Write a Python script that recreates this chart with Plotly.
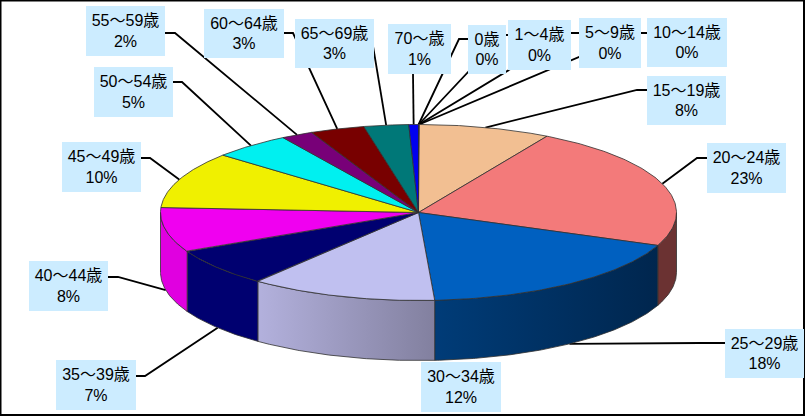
import numpy as np
import plotly.graph_objects as go

ages = ["0歳", "1～4歳", "5～9歳", "10～14歳", "15～19歳", "20～24歳", "25～29歳",
        "30～34歳", "35～39歳", "40～44歳", "45～49歳", "50～54歳", "55～59歳",
        "60～64歳", "65～69歳", "70～歳"]
shares = [0.01, 0.01, 0.01, 0.02, 8.25, 22.8, 17.9, 11.7, 7.0, 8.2, 10.4, 4.9, 2.0, 3.4, 2.8, 0.6]

top_colors = ["#0000F0", "#00F0F0", "#F000F0", "#F0F000", "#F2BF92", "#F37A7A", "#0060C0", "#C0C0F0",
              "#000070", "#F000F0", "#F0F000", "#00F0F0", "#780078", "#780000", "#007878", "#0000F0"]
wall_colors = {
    "20～24歳": ("#6B3232", "#6B3232"),
    "25～29歳": ("#003C78", "#00264E"),
    "30～34歳": ("#B3B1DD", "#82809F"),
    "35～39歳": ("#000070", "#000070"),
    "40～44歳": ("#E000E0", "#E000E0"),
}

# label box: left, top, width, height, then the elbow of its leader (None = no leader)
boxes = {
    "0歳": (468, 25, 38, 49, (468, 39), (459, 39)),
    "1～4歳": (508, 20, 63, 50, (508, 35), (503, 35)),
    "5～9歳": (579, 18, 62, 50, (579, 33), (570, 33)),
    "10～14歳": (647, 18, 80, 49, (647, 33), (636, 33)),
    "15～19歳": (647, 76, 79, 49, (647, 90), (637, 90)),
    "20～24歳": (707, 143, 79, 50, (707, 158), (697, 158)),
    "25～29歳": (725, 329, 79, 49, (725, 343), (700, 343)),
    "30～34歳": (421, 362, 80, 50, None, None),
    "35～39歳": (56, 360, 80, 50, (136, 376), (145, 376)),
    "40～44歳": (29, 261, 79, 50, (108, 277), (118, 277)),
    "45～49歳": (62, 142, 79, 50, (141, 158), (150, 158)),
    "50～54歳": (94, 67, 79, 50, (173, 82), (182, 82)),
    "55～59歳": (86, 6, 79, 50, (165, 33), (175, 33)),
    "60～64歳": (204, 9, 80, 49, (284, 33), (293, 33)),
    "65～69歳": (295, 19, 79, 49, (372, 40), (372, 40)),
    "70～歳": (388, 24, 63, 50, (413, 74), (413, 74)),
}

cx, cy = 418.5, 212.5
rx, ry = 258, 88
depth = 60
edge = "#303030"


def arc(a0, a1):
    t = np.radians(np.linspace(a0, a1, 120))
    return cx + rx * np.sin(t), cy - ry * np.cos(t)


total = sum(shares)
ends = np.cumsum(shares) / total * 360
starts = np.concatenate([[0], ends[:-1]])

fig = go.Figure()

# leaders go first so the pie and the boxes sit on top of them
for age, a0, a1 in zip(ages, starts, ends):
    box = boxes[age]
    if box[4] is None:
        continue
    mid = np.radians((a0 + a1) / 2)
    ax = cx + rx * np.sin(mid)
    ay = cy - ry * np.cos(mid)
    if np.cos(mid) < 0:
        ay += depth
    fig.add_trace(go.Scatter(
        x=[box[4][0], box[5][0], ax], y=[box[4][1], box[5][1], ay],
        mode="lines", line=dict(color="black", width=1.8),
        hoverinfo="skip", showlegend=False,
    ))

# side walls, only the front half of the rim shows
for age, a0, a1 in zip(ages, starts, ends):
    if age not in wall_colors:
        continue
    lo, hi = max(a0, 90), min(a1, 270)
    x, y = arc(lo, hi)
    left, right = wall_colors[age]
    if x[0] > x[-1]:
        x, y = x[::-1], y[::-1]
    fig.add_trace(go.Scatter(
        x=np.concatenate([x, x[::-1], x[:1]]),
        y=np.concatenate([y, y[::-1] + depth, y[:1]]),
        mode="lines", fill="toself",
        fillgradient=dict(type="horizontal", colorscale=[[0, left], [1, right]]),
        line=dict(color=edge, width=0.8),
        hoverinfo="skip", showlegend=False,
    ))

for a0, a1, color in zip(starts, ends, top_colors):
    x, y = arc(a0, a1)
    fig.add_trace(go.Scatter(
        x=np.concatenate([[cx], x, [cx]]),
        y=np.concatenate([[cy], y, [cy]]),
        mode="lines", fill="toself", fillcolor=color,
        line=dict(color=edge, width=0.8),
        hoverinfo="skip", showlegend=False,
    ))

for age, share in zip(ages, shares):
    left, top, w, h = boxes[age][:4]
    fig.add_annotation(
        x=left, y=top, xref="x", yref="y", xanchor="left", yanchor="top",
        text=f"{age}<br>{round(share / total * 100)}%",
        showarrow=False, width=w, height=h, align="center", valign="middle",
        bgcolor="#CCECFF", borderpad=0, borderwidth=0,
        font=dict(family="Liberation Sans, Noto Sans CJK JP", size=16, color="black"),
    )

fig.add_shape(type="rect", x0=0.5, y0=0.5, x1=804, y1=415, line=dict(color="black", width=2))

fig.update_layout(
    width=805, height=416,
    margin=dict(l=0, r=0, t=0, b=0),
    paper_bgcolor="white", plot_bgcolor="white",
    xaxis=dict(range=[0, 805], visible=False),
    yaxis=dict(range=[416, 0], visible=False),
    showlegend=False,
)
fig.write_html(
    "out.html",
    config={"displayModeBar": False},
    post_script="document.body.style.margin='0';document.body.style.overflow='hidden';",
)
